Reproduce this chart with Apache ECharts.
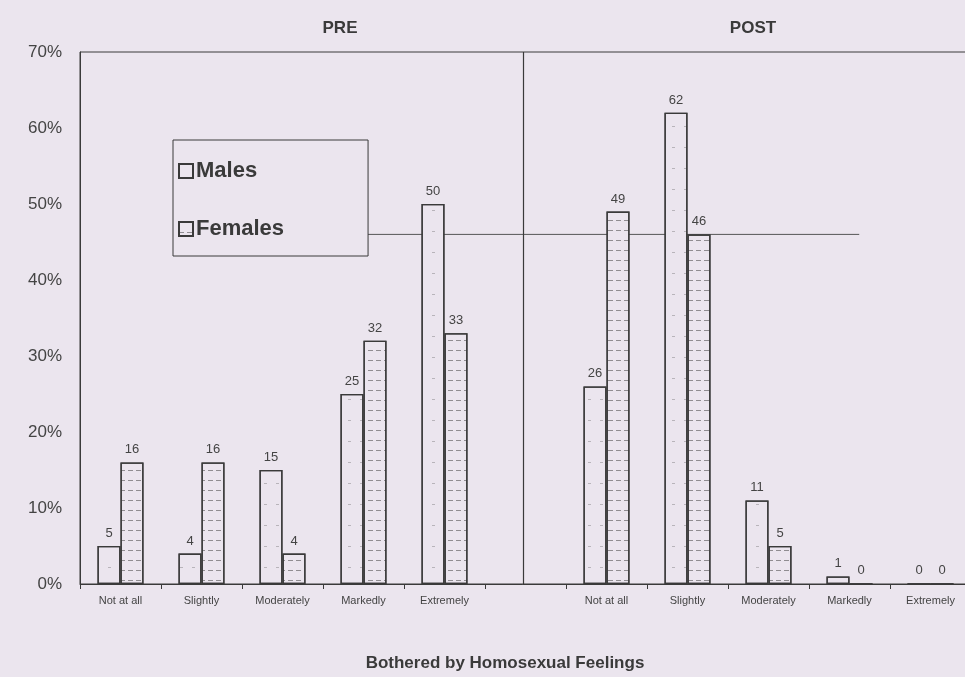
<!DOCTYPE html>
<html>
<head>
<meta charset="utf-8">
<script src="https://cdn.jsdelivr.net/npm/echarts@6/dist/echarts.min.js"></script>
<style>
  html, body { margin: 0; padding: 0; background: #ebe5ee; }
  #main { width: 965px; height: 677px; }
</style>
</head>
<body>
<div id="main"></div>
<script>
// categories, one empty slot between PRE and POST
const levels = ['Not at all', 'Slightly', 'Moderately', 'Markedly', 'Extremely']
const categories = [...levels, '', ...levels]
// percentages
const preMales = [5, 4, 15, 25, 50]
const preFemales = [16, 16, 4, 32, 33]
const postMales = [26, 62, 11, 1, 0]
const postFemales = [49, 46, 5, 0, 0]
const maleData = [...preMales, null, ...postMales]
const femaleData = [...preFemales, null, ...postFemales]
// stray horizontal rule at 46% and the PRE/POST divider (in category-slot units)
const refLevel = 46
const refFrom = 3.55
const refTo = 9.62
const dividerAt = 5.47

const ink = '#3a3a3a'
const paper = '#ebe5ee'
const font = 'Liberation Sans'

const chart = echarts.init(document.getElementById('main'))

const option = {
  backgroundColor: paper,
  textStyle: { fontFamily: font },
  title: [
    { text: 'PRE', left: 335, top: 15, textAlign: 'center',
      textStyle: { fontSize: 17, fontWeight: 'bold', color: ink, fontFamily: font } },
    { text: 'POST', left: 748, top: 15, textAlign: 'center',
      textStyle: { fontSize: 17, fontWeight: 'bold', color: ink, fontFamily: font } },
    { text: 'Bothered by Homosexual Feelings', left: 500, top: 650, textAlign: 'center',
      textStyle: { fontSize: 17, fontWeight: 'bold', color: ink, fontFamily: font } }
  ],
  legend: {
    data: ['Males', 'Females'],
    orient: 'vertical',
    left: 173,
    top: 140,
    padding: [20, 84, 16, 5],
    itemGap: 36,
    itemWidth: 14,
    itemHeight: 14,
    icon: 'rect',
    borderColor: ink,
    borderWidth: 1,
    backgroundColor: paper,
    textStyle: { fontSize: 22, fontWeight: 'bold', color: ink, fontFamily: font, padding: [0, 0, 0, -2] }
  },
  grid: {
    left: 80,
    top: 52,
    width: 891,
    bottom: 93,
    outerBoundsMode: 'none',
    show: true,
    borderColor: ink,
    borderWidth: 1,
    backgroundColor: 'transparent'
  },
  xAxis: [
    {
      type: 'category',
      data: categories,
      axisLine: { lineStyle: { color: ink } },
      axisTick: { show: true, length: 5, lineStyle: { color: ink } },
      axisLabel: { color: '#444', fontSize: 11, margin: 11, interval: 0 }
    },
    { type: 'value', min: 0, max: 11, show: false }
  ],
  yAxis: {
    type: 'value',
    min: 0,
    max: 70,
    interval: 10,
    axisLine: { show: true, lineStyle: { color: ink } },
    axisTick: { show: false },
    splitLine: { show: false },
    axisLabel: { formatter: '{value}%', color: '#444', fontSize: 17, margin: 18 }
  },
  series: [
    {
      name: 'Males',
      type: 'bar',
      data: maleData,
      barWidth: 23,
      barGap: '0%',
      itemStyle: {
        color: paper,
        borderColor: ink,
        borderWidth: 1.3,
        decal: {
          symbol: 'rect', symbolSize: 1,
          dashArrayX: [[3, 9]], dashArrayY: [1, 20],
          color: 'rgba(90,90,90,0.35)'
        }
      },
      label: { show: true, position: 'top', distance: 6, color: '#444', fontSize: 13 }
    },
    {
      name: 'Females',
      type: 'bar',
      data: femaleData,
      barWidth: 23,
      barGap: '0%',
      itemStyle: {
        color: paper,
        borderColor: ink,
        borderWidth: 1.3,
        decal: {
          symbol: 'rect', symbolSize: 1,
          dashArrayX: [[5, 3]], dashArrayY: [1, 9],
          color: 'rgba(70,70,70,0.55)'
        }
      },
      label: { show: true, position: 'top', distance: 6, color: '#444', fontSize: 13 }
    },
    {
      name: 'rule',
      type: 'line',
      xAxisIndex: 1,
      data: [[refFrom, refLevel], [refTo, refLevel]],
      symbol: 'none',
      silent: true,
      z: 1,
      lineStyle: { color: '#555', width: 1 },
      markLine: {
        silent: true,
        symbol: 'none',
        label: { show: false },
        lineStyle: { color: ink, width: 1.2, type: 'solid' },
        data: [{ xAxis: dividerAt }]
      }
    }
  ]
}

chart.setOption(option)
</script>
</body>
</html>
